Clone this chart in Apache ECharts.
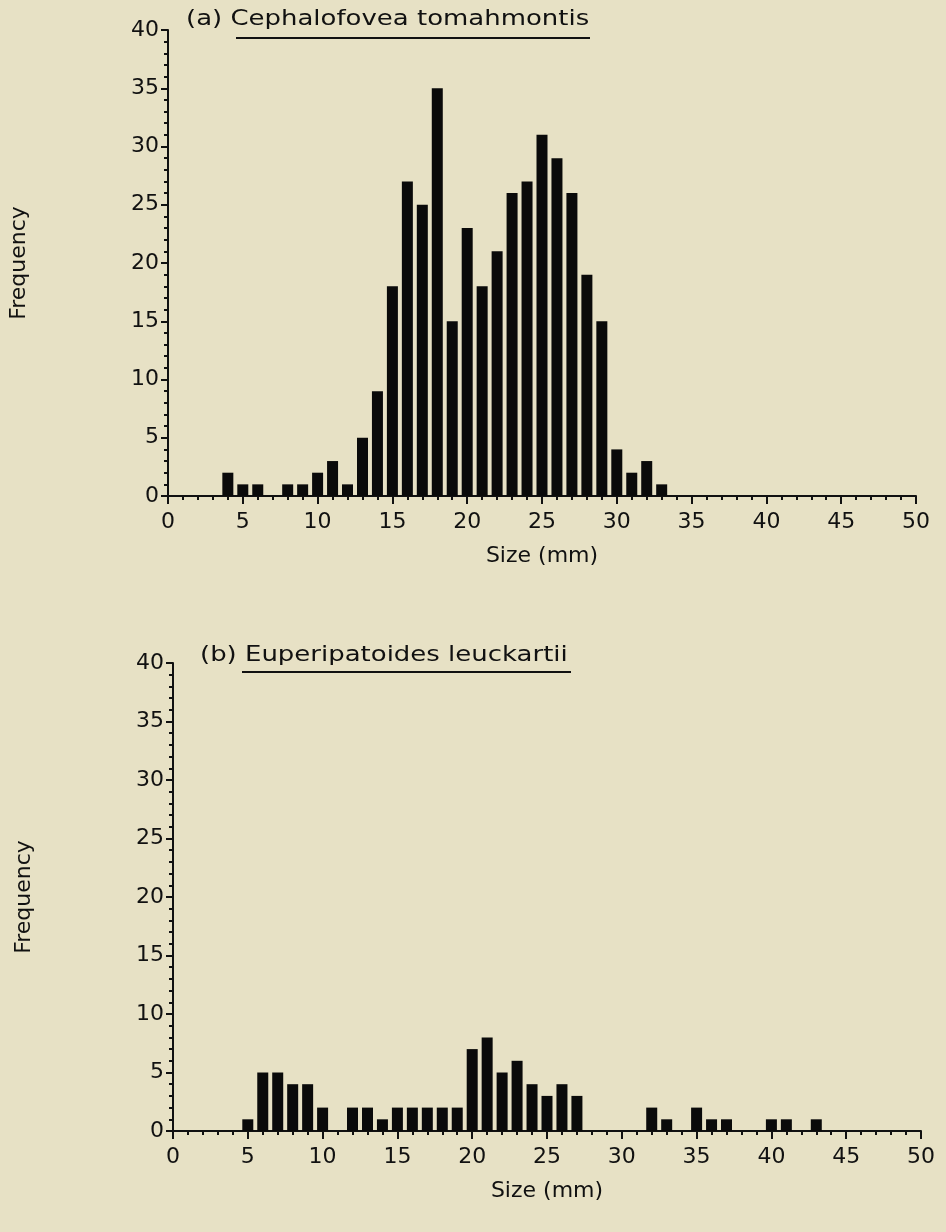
<!DOCTYPE html>
<html>
<head>
<meta charset="utf-8">
<script src="https://cdn.jsdelivr.net/npm/echarts@6/dist/echarts.min.js"></script>
<style>
  html, body { margin: 0; padding: 0; background: #e7e1c5; }
  #chart { width: 946px; height: 1232px; }
</style>
</head>
<body>
<div id="chart"></div>
<script>
// size classes (mm) and frequencies
const sizesA = [4, 5, 6, 7, 8, 9, 10, 11, 12, 13, 14, 15, 16, 17, 18, 19, 20, 21, 22, 23, 24, 25, 26, 27, 28, 29, 30, 31, 32, 33];
const freqA  = [2, 1, 1, 0, 1, 1, 2, 3, 1, 5, 9, 18, 27, 25, 35, 15, 23, 18, 21, 26, 27, 31, 29, 26, 19, 15, 4, 2, 3, 1];

const sizesB = [5, 6, 7, 8, 9, 10, 11, 12, 13, 14, 15, 16, 17, 18, 19, 20, 21, 22, 23, 24, 25, 26, 27, 32, 33, 35, 36, 37, 40, 41, 43];
const freqB  = [1, 5, 5, 4, 4, 2, 0, 2, 2, 1, 2, 2, 2, 2, 2, 7, 8, 5, 6, 4, 3, 4, 3, 2, 1, 2, 1, 1, 1, 1, 1];

const titleA = '(a) Cephalofovea tomahmontis';
const titleB = '(b) Euperipatoides leuckartii';

const font = 'DejaVu Sans';
const ink = '#111';

const chart = echarts.init(document.getElementById('chart'));

function xAxis(gridIndex) {
    return {
        gridIndex: gridIndex,
        type: 'value',
        min: 0,
        max: 50,
        interval: 5,
        name: 'Size (mm)',
        nameLocation: 'middle',
        nameGap: 49,
        nameTextStyle: { color: ink, fontSize: 22, fontFamily: font },
        axisLine: { onZero: false, lineStyle: { color: ink, width: 2 } },
        axisTick: { length: 8, lineStyle: { color: ink, width: 2 } },
        minorTick: { show: true, splitNumber: 5, length: 4, lineStyle: { color: ink, width: 2 } },
        axisLabel: { color: ink, fontSize: 22, fontFamily: font, margin: 15 },
        splitLine: { show: false }
    };
}

function yAxis(gridIndex) {
    return {
        gridIndex: gridIndex,
        type: 'value',
        min: 0,
        max: 40,
        interval: 5,
        name: 'Frequency',
        nameLocation: 'middle',
        nameGap: 138,
        nameTextStyle: { color: ink, fontSize: 22, fontFamily: font },
        axisLine: { show: true, lineStyle: { color: ink, width: 2 } },
        axisTick: { show: true, length: 7, lineStyle: { color: ink, width: 2 } },
        minorTick: { show: true, splitNumber: 5, length: 4, lineStyle: { color: ink, width: 2 } },
        axisLabel: { color: ink, fontSize: 22, fontFamily: font, margin: 9 },
        splitLine: { show: false }
    };
}

function titleText(text, x, y) {
    return {
        type: 'text',
        x: x,
        y: y,
        scaleX: 1.18,
        style: {
            text: text,
            fill: ink,
            font: '22px "' + font + '"',
            verticalAlign: 'top'
        }
    };
}

const option = {
    backgroundColor: '#e7e1c5',
    animation: false,
    grid: [
        { left: 166, top: 30, width: 750, height: 466 },
        { left: 173, top: 663, width: 748, height: 468 }
    ],
    xAxis: [xAxis(0), xAxis(1)],
    yAxis: [yAxis(0), yAxis(1)],
    graphic: [
        titleText(titleA, 186, 8),
        { type: 'line', shape: { x1: 236, y1: 38, x2: 590, y2: 38 }, style: { stroke: ink, lineWidth: 2 } },
        titleText(titleB, 200, 644),
        { type: 'line', shape: { x1: 242, y1: 672, x2: 571, y2: 672 }, style: { stroke: ink, lineWidth: 2 } }
    ],
    series: [
        {
            type: 'bar',
            xAxisIndex: 0,
            yAxisIndex: 0,
            barWidth: 11,
            itemStyle: { color: '#0a0a0a' },
            data: sizesA.map((s, i) => [s, freqA[i]])
        },
        {
            type: 'bar',
            xAxisIndex: 1,
            yAxisIndex: 1,
            barWidth: 11,
            itemStyle: { color: '#0a0a0a' },
            data: sizesB.map((s, i) => [s, freqB[i]])
        }
    ]
};

chart.setOption(option);
</script>
</body>
</html>
